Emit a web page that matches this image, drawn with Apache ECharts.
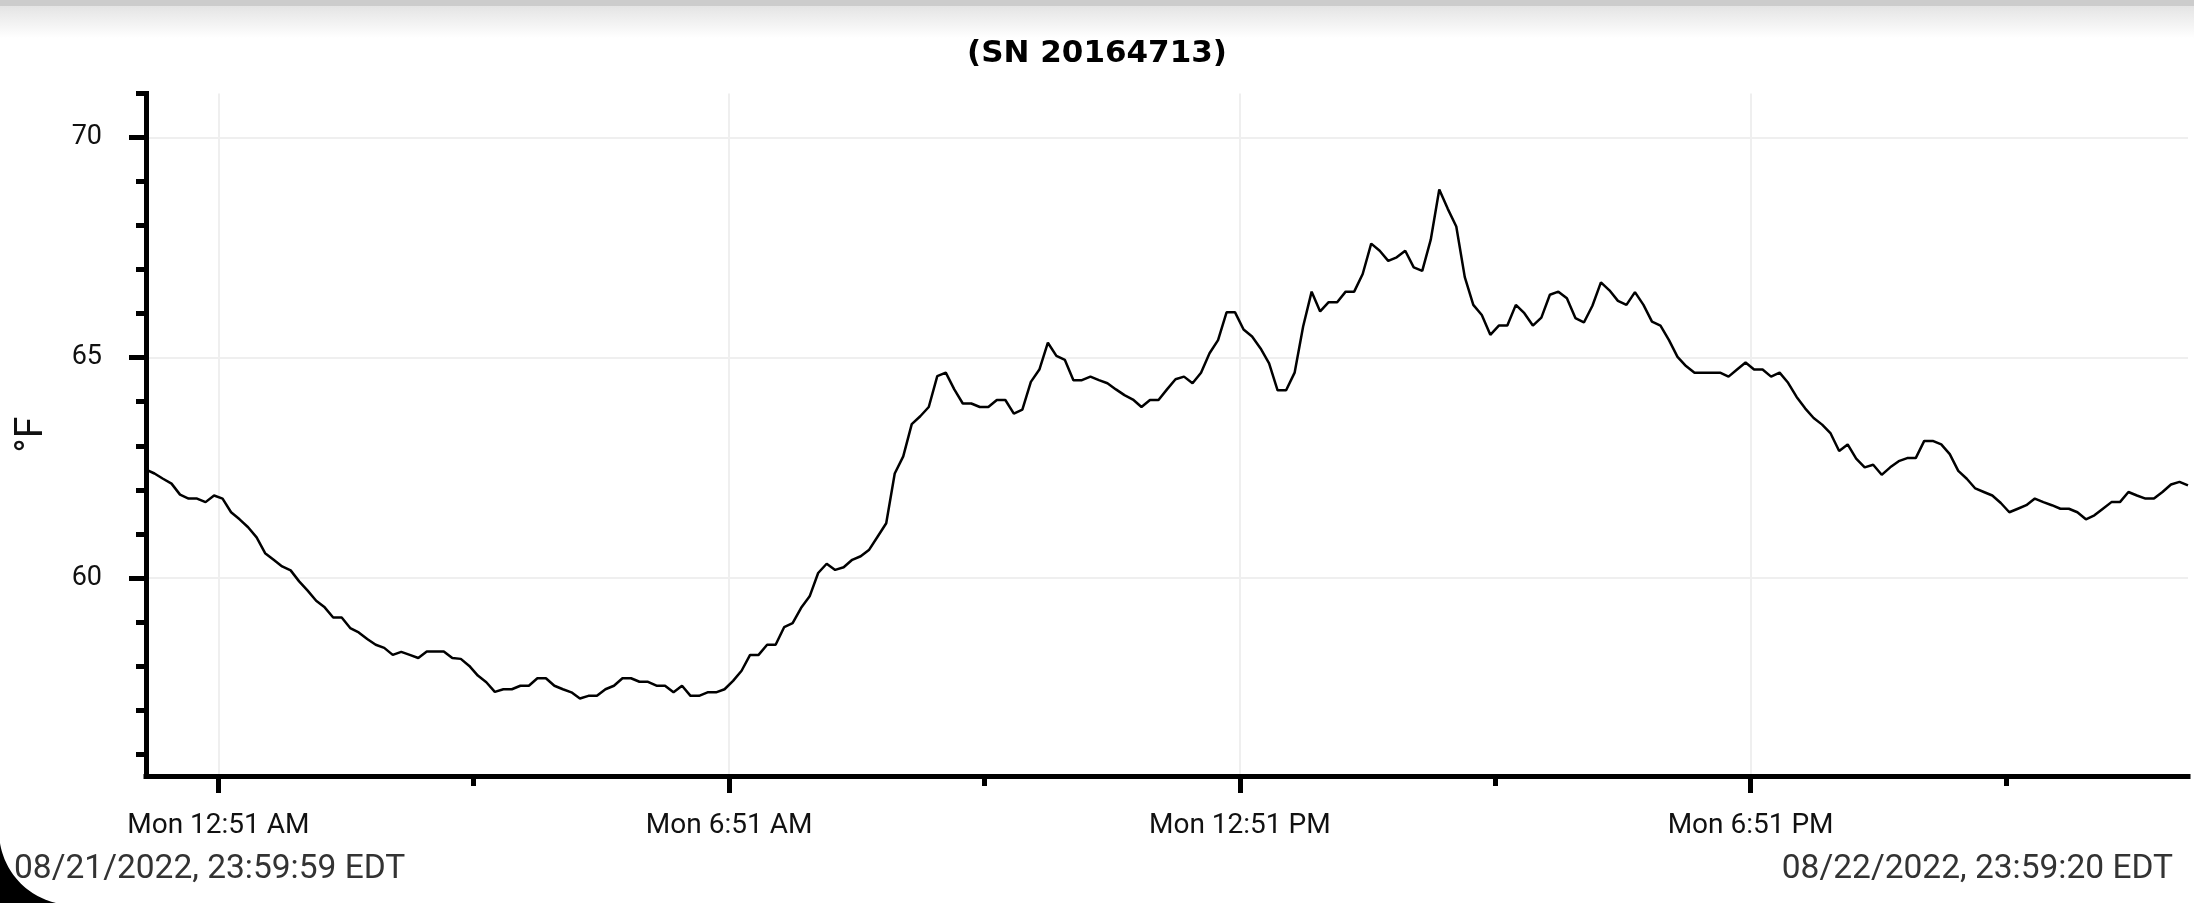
<!DOCTYPE html>
<html>
<head>
<meta charset="utf-8">
<script src="https://cdn.jsdelivr.net/npm/echarts@6.0.0/dist/echarts.min.js"></script>
<style>
html,body{margin:0;padding:0;background:#fff;}
#c{width:2194px;height:903px;}
</style>
</head>
<body>
<div id="c"></div>
<script>
const titleText = '(SN 20164713)';
const yAxisName = '°F';
const startLabel = '08/21/2022, 23:59:59 EDT';
const endLabel = '08/22/2022, 23:59:20 EDT';

// minutes from 08/22/2022 00:00 EDT
const startMinute = -1 / 60;              // 08/21 23:59:59
const endMinute = 23 * 60 + 59 + 20 / 60; // 08/22 23:59:20

// logged temperatures (°F), evenly spaced readings from start to end
const temps = [
  62.46, 62.37, 62.25, 62.14, 61.89, 61.80, 61.80, 61.72, 61.87, 61.80,
  61.49, 61.33, 61.15, 60.92, 60.56, 60.41, 60.26, 60.17, 59.92, 59.71,
  59.48, 59.33, 59.10, 59.10, 58.86, 58.76, 58.61, 58.48, 58.41, 58.25,
  58.32, 58.25, 58.18, 58.33, 58.33, 58.33, 58.18, 58.16, 58.00, 57.78,
  57.63, 57.41, 57.47, 57.47, 57.55, 57.55, 57.72, 57.72, 57.55, 57.47,
  57.40, 57.26, 57.32, 57.32, 57.47, 57.55, 57.72, 57.72, 57.64, 57.64,
  57.55,
  57.55, 57.40, 57.55, 57.32, 57.32, 57.40, 57.40, 57.47, 57.66, 57.89,
  58.25, 58.25, 58.48, 58.48, 58.88, 58.97, 59.32, 59.58, 60.11, 60.32,
  60.18, 60.24, 60.41, 60.49, 60.64, 60.94, 61.24, 62.37, 62.76, 63.49,
  63.67, 63.88, 64.58, 64.66, 64.28, 63.96, 63.96, 63.88, 63.88, 64.04,
  64.04, 63.73, 63.82, 64.45, 64.73, 65.34, 65.04, 64.95, 64.49, 64.49,
  64.57, 64.49, 64.42, 64.28, 64.15, 64.05, 63.88, 64.04, 64.04, 64.28,
  64.51, 64.57, 64.42, 64.66, 65.10, 65.40, 66.03, 66.03, 65.64, 65.48,
  65.21, 64.87, 64.26, 64.26, 64.66, 65.71, 66.50, 66.05, 66.26, 66.26,
  66.50, 66.50, 66.90, 67.59, 67.43, 67.20, 67.28, 67.43, 67.05, 66.97,
  67.68, 68.82, 68.38, 67.98, 66.83, 66.20, 65.97, 65.52, 65.73, 65.73,
  66.20, 66.01, 65.73, 65.91, 66.43, 66.50, 66.35, 65.90, 65.80, 66.18,
  66.71, 66.53, 66.29, 66.20, 66.49, 66.20, 65.82, 65.73, 65.40, 65.02,
  64.81, 64.66, 64.66, 64.66, 64.66, 64.57, 64.73, 64.89, 64.73, 64.73,
  64.57, 64.66, 64.43, 64.11, 63.85, 63.63, 63.48, 63.28, 62.88, 63.03,
  62.71, 62.51, 62.57, 62.34, 62.51, 62.65, 62.72, 62.72, 63.11, 63.11,
  63.03, 62.81, 62.43, 62.25, 62.03, 61.95, 61.87, 61.70, 61.49, 61.57,
  61.65, 61.80, 61.72, 61.65, 61.57, 61.57, 61.49, 61.33, 61.42, 61.57,
  61.72, 61.72, 61.95, 61.87, 61.80, 61.80, 61.95, 62.12, 62.18, 62.10
];

const xMajorTicks = [51, 411, 771, 1131];
const xTickLabels = ['Mon 12:51 AM', 'Mon 6:51 AM', 'Mon 12:51 PM', 'Mon 6:51 PM'];
const xMinorTicks = [231, 591, 951, 1311];
const yMin = 55.5, yMax = 71;
const yMajorTicks = [60, 65, 70];
const yMinorTicks = [56, 57, 58, 59, 61, 62, 63, 64, 66, 67, 68, 69, 71];

const step = (endMinute - startMinute) / (temps.length - 1);
const seriesData = temps.map((v, i) => [startMinute + i * step, v]);

// decorative rounded screen corner (bottom-left)
function cornerPoints() {
  const cx = 73, cy = 831, r = 74, pts = [[0, 903]];
  const a0 = Math.PI - Math.asin((842 - cy) / r);
  const a1 = Math.PI / 2 + Math.asin((cx - 57) / r);
  for (let k = 0; k <= 30; k++) {
    const a = a0 + (a1 - a0) * k / 30;
    pts.push([cx + r * Math.cos(a), cy + r * Math.sin(a)]);
  }
  return pts;
}

const chart = echarts.init(document.getElementById('c'), null, {renderer: 'canvas'});
const FONT = 'Roboto';
const axisBlack = '#000';

chart.setOption({
  animation: false,
  backgroundColor: '#fff',
  title: {
    text: titleText,
    left: 'center',
    top: 33,
    textStyle: {fontFamily: 'DejaVu Sans', fontWeight: 'bold', fontSize: 31, color: '#000'}
  },
  grid: {left: 146, right: 6, top: 93.5, bottom: 127, containLabel: false, outerBoundsMode: 'none'},
  xAxis: [{
    type: 'value', min: startMinute, max: endMinute, position: 'bottom',
    axisLine: {show: true, onZero: false, lineStyle: {color: axisBlack, width: 5, cap: 'square'}},
    axisTick: {show: true, customValues: xMajorTicks, length: 17, lineStyle: {color: axisBlack, width: 5}},
    axisLabel: {
      show: true, customValues: xMajorTicks, margin: 36, fontSize: 28, fontFamily: FONT, color: '#111',
      formatter: v => { const k = xMajorTicks.indexOf(Math.round(v)); return k >= 0 ? xTickLabels[k] : ''; }
    },
    splitLine: {show: true, lineStyle: {color: '#efefef', width: 2}}
  }, {
    type: 'value', min: startMinute, max: endMinute, position: 'bottom',
    axisLine: {show: false, onZero: false},
    axisTick: {show: true, customValues: xMinorTicks, length: 10, lineStyle: {color: axisBlack, width: 5}},
    axisLabel: {show: false},
    splitLine: {show: false}
  }],
  yAxis: [{
    type: 'value', min: yMin, max: yMax, position: 'left',
    name: yAxisName, nameLocation: 'middle', nameGap: 94,
    nameTextStyle: {fontSize: 39, fontFamily: FONT, color: '#111'},
    axisLine: {show: true, onZero: false, lineStyle: {color: axisBlack, width: 5, cap: 'square'}},
    axisTick: {show: true, customValues: yMajorTicks, length: 17, lineStyle: {color: axisBlack, width: 5}},
    axisLabel: {show: true, customValues: yMajorTicks, margin: 44, fontSize: 27, fontFamily: FONT, color: '#111'},
    splitLine: {show: true, lineStyle: {color: '#efefef', width: 2}}
  }, {
    type: 'value', min: yMin, max: yMax, position: 'left',
    axisLine: {show: false, onZero: false},
    axisTick: {show: true, customValues: yMinorTicks, length: 10, lineStyle: {color: axisBlack, width: 5}},
    axisLabel: {show: false},
    splitLine: {show: false}
  }],
  series: [{
    type: 'line',
    xAxisIndex: 0, yAxisIndex: 0,
    data: seriesData,
    showSymbol: false, symbol: 'none',
    lineStyle: {color: '#000', width: 2.5},
    silent: true
  }],
  graphic: [
    {type: 'rect', shape: {x: 0, y: 0, width: 2194, height: 6}, style: {fill: '#cccccc'}, silent: true},
    {type: 'rect', shape: {x: 0, y: 6, width: 2194, height: 32},
      style: {fill: {type: 'linear', x: 0, y: 0, x2: 0, y2: 1, colorStops: [{offset: 0, color: '#e4e4e4'}, {offset: 1, color: '#ffffff'}]}}, silent: true},
    {type: 'polygon', shape: {points: cornerPoints()}, style: {fill: '#000'}, silent: true},
    {type: 'text', x: 14, y: 870, z: 10,
      style: {text: startLabel, font: '33.5px Roboto', fill: '#333', align: 'left', textAlign: 'left', verticalAlign: 'middle', textVerticalAlign: 'middle'}},
    {type: 'text', x: 2173, y: 870, z: 10,
      style: {text: endLabel, font: '33.5px Roboto', fill: '#333', align: 'right', textAlign: 'right', verticalAlign: 'middle', textVerticalAlign: 'middle'}}
  ]
});
</script>
</body>
</html>
